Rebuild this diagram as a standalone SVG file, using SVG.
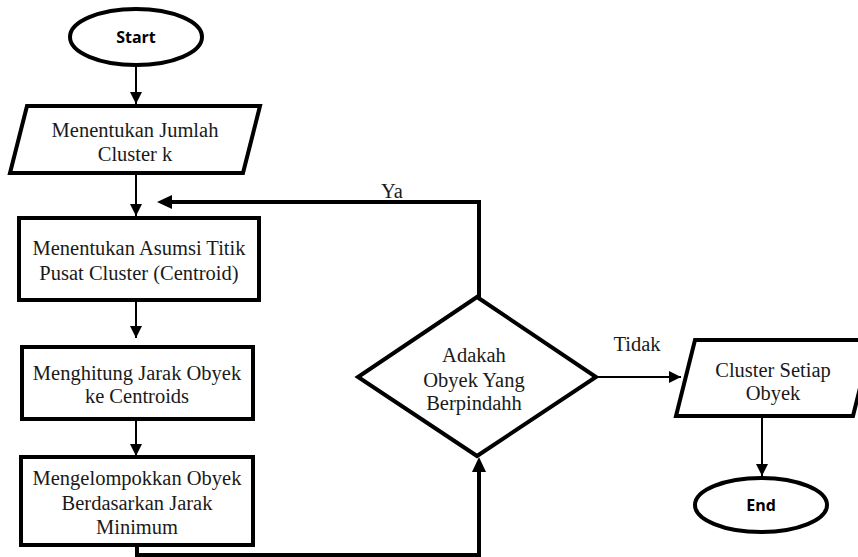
<svg xmlns="http://www.w3.org/2000/svg" width="858" height="557" viewBox="0 0 858 557">
<style>
.shape{fill:#fff;stroke:#000;stroke-width:4;stroke-linejoin:miter}
.t{font-family:"Liberation Serif","Times New Roman",serif;font-size:20.5px;fill:#1a1a1a;text-anchor:middle}
.b{font-family:"Open Sans","DejaVu Sans",sans-serif;font-weight:bold;font-size:16px;fill:#000;text-anchor:middle}
.thin{fill:none;stroke:#000;stroke-width:2}
.thick{fill:none;stroke:#000;stroke-width:4}
</style>
<defs>
<marker id="ah" viewBox="0 0 12 12" refX="12" refY="6" markerWidth="12" markerHeight="12" markerUnits="userSpaceOnUse" orient="auto">
<path d="M0,0 L12,6 L0,12 Z" fill="#000"/>
</marker>
</defs>
<g id="connectors">
<line class="thin" x1="136" y1="65" x2="136" y2="104" marker-end="url(#ah)"/>
<line class="thin" x1="136" y1="173" x2="136" y2="216" marker-end="url(#ah)"/>
<line class="thin" x1="136" y1="300" x2="136" y2="338" marker-end="url(#ah)"/>
<line class="thin" x1="136" y1="419" x2="136" y2="456" marker-end="url(#ah)"/>
<polyline class="thick" points="479,297 479,202 170,202"/>
<path d="M157,202 L172,195 L172,209 Z" fill="#000"/>
<polyline class="thick" points="137,545 137,555 479,555 479,472"/>
<path d="M479,457 L472,472 L486,472 Z" fill="#000"/>
<line class="thin" x1="597" y1="377" x2="681" y2="377" marker-end="url(#ah)"/>
<line class="thin" x1="762" y1="416" x2="762" y2="476" marker-end="url(#ah)"/>
<text class="t" x="392" y="198">Ya</text>
<text class="t" x="637" y="351">Tidak</text>
</g>
<g id="start">
<ellipse class="shape" cx="136" cy="37" rx="66" ry="28"/>
<text class="b" x="136" y="43">Start</text>
</g>
<g id="input-k">
<polygon class="shape" points="27,106 260,106 243,173 10,173"/>
<text class="t" x="135" y="137">Menentukan Jumlah</text>
<text class="t" x="135" y="161">Cluster k</text>
</g>
<g id="centroid">
<rect class="shape" x="19" y="218" width="240" height="82"/>
<text class="t" x="139" y="255">Menentukan Asumsi Titik</text>
<text class="t" x="139" y="280">Pusat Cluster (Centroid)</text>
</g>
<g id="jarak">
<rect class="shape" x="22" y="347" width="231" height="72"/>
<text class="t" x="137" y="380">Menghitung Jarak Obyek</text>
<text class="t" x="137" y="403">ke Centroids</text>
</g>
<g id="kelompok">
<rect class="shape" x="21" y="457" width="232" height="88"/>
<text class="t" x="137" y="485">Mengelompokkan Obyek</text>
<text class="t" x="137" y="510">Berdasarkan Jarak</text>
<text class="t" x="137" y="534">Minimum</text>
</g>
<g id="decision">
<polygon class="shape" points="477,297 596,377 477,456 358,377"/>
<text class="t" x="474" y="362">Adakah</text>
<text class="t" x="474" y="387">Obyek Yang</text>
<text class="t" x="474" y="410">Berpindahh</text>
</g>
<g id="output">
<polygon class="shape" points="695,340 872,340 853,416 676,416"/>
<text class="t" x="773" y="377">Cluster Setiap</text>
<text class="t" x="773" y="400">Obyek</text>
</g>
<g id="end">
<ellipse class="shape" cx="761" cy="505" rx="66" ry="27"/>
<text class="b" x="761" y="511">End</text>
</g>
</svg>
